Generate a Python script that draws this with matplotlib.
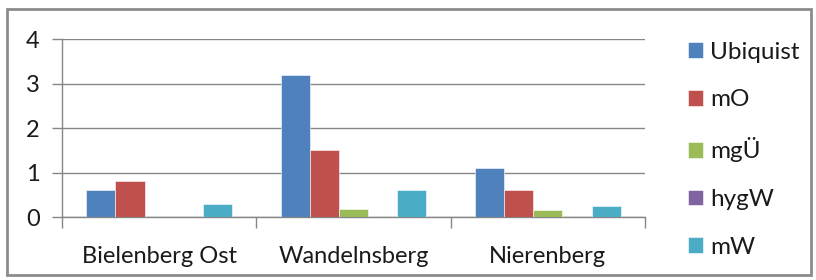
import matplotlib
matplotlib.use("Agg")
import matplotlib.pyplot as plt
from matplotlib.patches import Rectangle
import numpy as np

categories = ["Bielenberg Ost", "Wandelnsberg", "Nierenberg"]
series_names = ["Ubiquist", "mO", "mgÜ", "hygW", "mW"]
ubiquist = [0.6, 3.2, 1.1]
mO = [0.8, 1.5, 0.6]
mgU = [0.0, 0.18, 0.15]
hygW = [0.0, 0.0, 0.0]
mW = [0.3, 0.6, 0.25]
yticks = [0, 1, 2, 3, 4]

series = [ubiquist, mO, mgU, hygW, mW]
colors = ["#4F81BD", "#C0504D", "#9BBB59", "#8064A2", "#4BACC6"]

plt.rcParams['font.family'] = ['Lato', 'DejaVu Sans']

W, H = 816, 280
fig = plt.figure(figsize=(W / 100, H / 100), dpi=100)
ax = fig.add_axes([62 / W, 1 - 217 / H, (645 - 62) / W, (217 - 39) / H])

x = np.arange(len(categories))
n = len(series)
bw = 0.75 / n
for i, (vals, c, name) in enumerate(zip(series, colors, series_names)):
    ax.bar(x - 0.375 + bw * (i + 0.5), vals, width=bw, color=c, label=name,
           edgecolor='white', linewidth=0.4, zorder=3)

ax.set_xlim(-0.5, len(categories) - 0.5)
ax.set_ylim(0, 4)
ax.set_yticks(yticks)
ax.set_yticklabels([str(t) for t in yticks], fontsize=17, color='#1a1a1a')
ax.yaxis.grid(True, color='#868686', linewidth=1)
ax.set_axisbelow(True)

ax.set_xticks(x)
ax.set_xticklabels(categories, fontsize=17, color='#1a1a1a')
ax.tick_params(axis='x', length=0, pad=21)
ax.set_xticks(np.arange(-0.5, len(categories)), minor=True)
ax.tick_params(axis='x', which='minor', length=8, color='#868686', width=1)
ax.tick_params(axis='y', length=7, color='#868686', width=1, pad=9)

for s in ['top', 'right']:
    ax.spines[s].set_visible(False)
for s in ['left', 'bottom']:
    ax.spines[s].set_color('#868686')
    ax.spines[s].set_linewidth(1)

handles, labels = ax.get_legend_handles_labels()
leg = fig.legend(handles, labels, loc='upper left', bbox_to_anchor=(678 / W, 1 - 32 / H),
                 frameon=False, fontsize=17.5, handlelength=0.62, handleheight=0.62,
                 handletextpad=0.3, labelspacing=1.1, borderaxespad=0,
                 labelcolor='#1a1a1a')

fig.patches.append(Rectangle((7 / W, 1 - 275 / H), (811 - 7) / W, (275 - 9) / H,
                             transform=fig.transFigure, fill=False,
                             edgecolor='#8C8C8C', linewidth=2))

fig.savefig("out.png", dpi=100)
